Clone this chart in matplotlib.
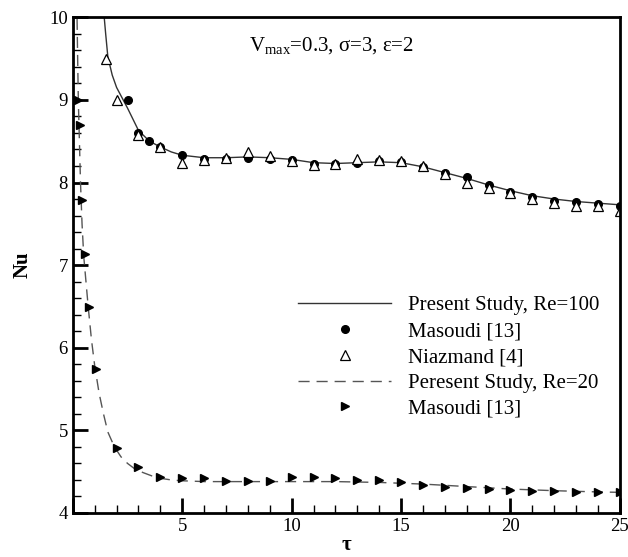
import matplotlib
matplotlib.use("Agg")
import matplotlib.pyplot as plt
from matplotlib.ticker import MultipleLocator, FuncFormatter

plt.rcParams["font.family"] = ["Liberation Serif", "DejaVu Serif"]
plt.rcParams["mathtext.fontset"] = "custom"
plt.rcParams["mathtext.rm"] = "Liberation Serif"
plt.rcParams["mathtext.it"] = "Liberation Serif:italic"

# Present study, Re=100 (solid curve)
tau_re100 = [1.40, 1.50, 1.60, 1.80, 2.00, 2.30, 2.50, 3.00, 3.50, 4.00, 4.50, 5, 6, 7, 8, 9,
             10, 11, 12, 13, 14, 15, 16, 17, 18, 19, 20, 21, 22, 23, 24, 25]
nu_re100 = [10.10, 9.80, 9.52, 9.30, 9.15, 9.00, 8.90, 8.63, 8.50, 8.43, 8.37, 8.33, 8.30,
            8.30, 8.31, 8.30, 8.28, 8.24, 8.23, 8.24, 8.25, 8.24, 8.19, 8.12, 8.05, 7.97,
            7.90, 7.84, 7.80, 7.77, 7.75, 7.73]

# Masoudi [13], Re=100 (filled circles)
tau_mas100 = [2.5, 3, 3.5, 4, 5, 6, 7, 8, 9, 10, 11, 12, 13, 14, 15, 16, 17, 18, 19, 20,
              21, 22, 23, 24, 25]
nu_mas100 = [9.00, 8.60, 8.50, 8.43, 8.33, 8.29, 8.29, 8.30, 8.29, 8.27, 8.23, 8.22, 8.24,
             8.26, 8.25, 8.19, 8.12, 8.07, 7.97, 7.89, 7.82, 7.78, 7.76, 7.74, 7.72]

# Niazmand [4] (open triangles)
tau_nia = [1.5, 2, 3, 4, 5, 6, 7, 8, 9, 10, 11, 12, 13, 14, 15, 16, 17, 18, 19, 20, 21,
           22, 23, 24, 25]
nu_nia = [9.50, 9.00, 8.57, 8.43, 8.24, 8.27, 8.30, 8.37, 8.32, 8.26, 8.21, 8.22, 8.28,
          8.27, 8.26, 8.20, 8.10, 8.00, 7.93, 7.87, 7.80, 7.75, 7.72, 7.71, 7.66]

# Present study, Re=20 (dashed curve)
tau_re20 = [0.18, 0.22, 0.25, 0.30, 0.35, 0.42, 0.50, 0.60, 0.70, 0.85, 1.0, 1.2, 1.4, 1.6,
            1.9, 2.2, 2.5, 2.8, 3.2, 3.6, 4.0, 4.5, 5, 6, 8, 10, 12, 14, 15, 16, 18, 20,
            22, 24, 25]
nu_re20 = [10.2, 9.5, 9.0, 8.5, 8.0, 7.5, 7.1, 6.8, 6.5, 6.1, 5.78, 5.45, 5.20, 4.98, 4.80,
           4.68, 4.60, 4.54, 4.49, 4.45, 4.42, 4.40, 4.39, 4.38, 4.38, 4.38, 4.38, 4.37,
           4.36, 4.35, 4.32, 4.29, 4.27, 4.255, 4.25]

# Masoudi [13], Re=20 (right-pointing triangles)
tau_mas20 = [0.23, 0.32, 0.40, 0.55, 0.75, 1.05, 2, 3, 4, 5, 6, 7, 8, 9, 10, 11, 12, 13,
             14, 15, 16, 17, 18, 19, 20, 21, 22, 23, 24, 25]
nu_mas20 = [9.00, 8.70, 7.79, 7.13, 6.49, 5.74, 4.79, 4.56, 4.44, 4.42, 4.42, 4.39, 4.39,
            4.39, 4.44, 4.43, 4.42, 4.40, 4.40, 4.38, 4.34, 4.32, 4.30, 4.29, 4.28, 4.27,
            4.27, 4.26, 4.25, 4.25]

fig = plt.figure(figsize=(6.28, 5.57), dpi=100)
ax = fig.add_axes([0.116, 0.079, 0.871, 0.890])

ax.plot(tau_re100, nu_re100, color="#333333", lw=1.0, label="Present Study, Re=100")
ax.plot(tau_mas100, nu_mas100, "o", color="black", ms=5.5, ls="none", label="Masoudi [13]")
ax.plot(tau_nia, nu_nia, "^", mfc="white", mec="black", mew=0.9, ms=7.5, ls="none",
        label="Niazmand [4]")
ax.plot(tau_re20, nu_re20, color="#555555", lw=1.0, dashes=(8, 5),
        label="Peresent Study, Re=20")
ax.plot(tau_mas20, nu_mas20, ">", color="black", ms=5.5, ls="none", label="Masoudi [13]")

ax.set_xlim(0, 25)
ax.set_ylim(4, 10)
ax.xaxis.set_major_locator(MultipleLocator(5))
ax.xaxis.set_minor_locator(MultipleLocator(1))
ax.yaxis.set_major_locator(MultipleLocator(1))
ax.yaxis.set_minor_locator(MultipleLocator(0.2))
ax.xaxis.set_major_formatter(FuncFormatter(lambda v, p: "" if abs(v) < 1e-9 else f"{v:g}"))
ax.tick_params(which="both", direction="in", top=False, right=False, labelsize=13.5)
ax.tick_params(which="major", length=11, width=2)
ax.tick_params(which="minor", length=6, width=1)
for s in ax.spines.values():
    s.set_linewidth(2)

ax.set_xlabel("τ", fontsize=15, fontweight="bold", labelpad=0)
ax.set_ylabel("Nu", fontsize=15, fontweight="bold", labelpad=12)

ax.text(11.8, 9.66, r"V$_{\mathrm{max}}$=0.3, σ=3, ε=2", fontsize=15, ha="center", va="center")

ax.legend(loc="upper left", bbox_to_anchor=(0.411, 0.438), frameon=False, fontsize=15,
          handlelength=4.5, handletextpad=0.8, labelspacing=0.3, borderpad=0,
          borderaxespad=0)

fig.savefig("out.png", dpi=100)
